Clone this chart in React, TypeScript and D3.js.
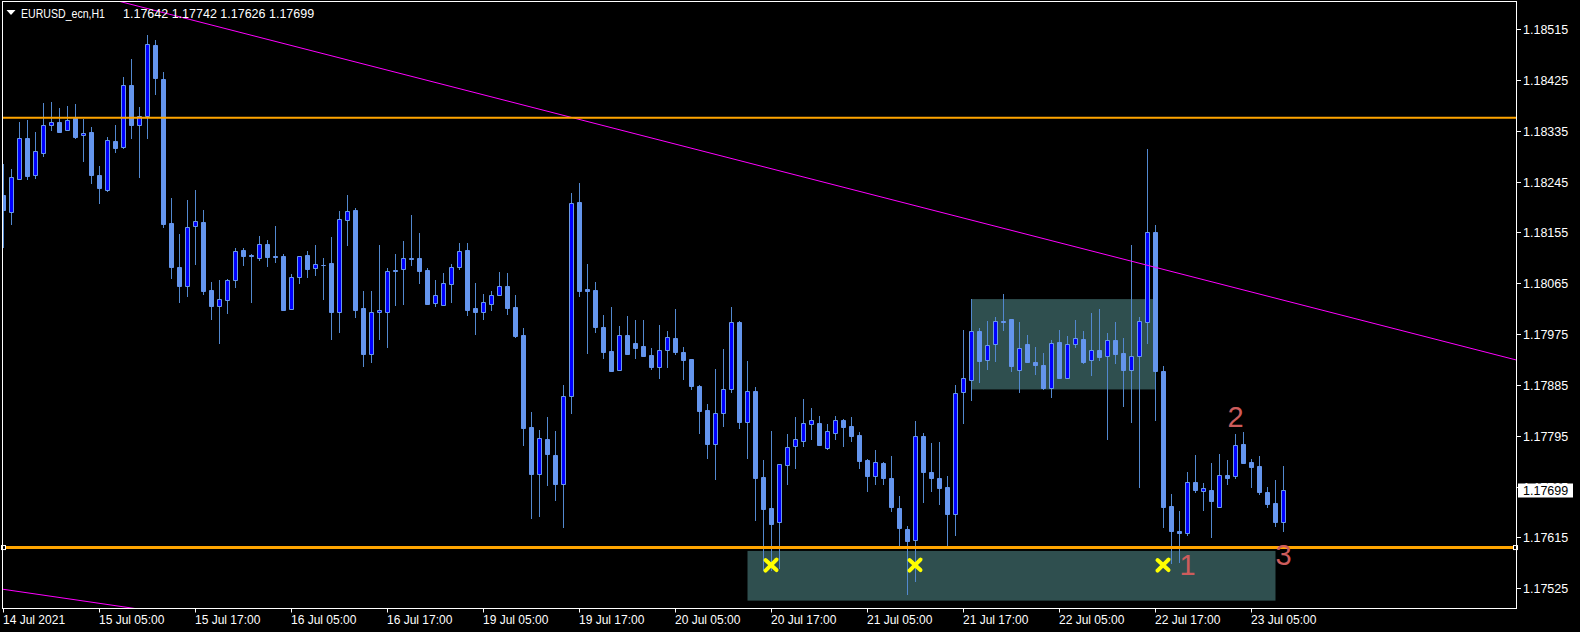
import React from "react";
import * as d3 from "d3";

// ---- data (EURUSD_ecn, H1, 14 Jul 17:00 -> 23 Jul 09:00) ----
const opens = [
  1.18221, 1.18192, 1.18250, 1.18322, 1.18256, 1.18296, 1.18345, 1.18351, 1.18336, 1.18357,
  1.18327, 1.18333, 1.18257, 1.18231, 1.18317, 1.18306, 1.18416, 1.18346, 1.18361, 1.18487,
  1.18427, 1.18172, 1.18094, 1.18061, 1.18166, 1.18174, 1.18053, 1.18025, 1.18036, 1.18070,
  1.18124, 1.18115, 1.18109, 1.18135, 1.18113, 1.18113, 1.18019, 1.18076, 1.18115, 1.18092,
  1.18098, 1.18101, 1.18015, 1.18177, 1.18195, 1.18021, 1.17939, 1.18014, 1.18015, 1.18088,
  1.18090, 1.18110, 1.18110, 1.18089, 1.18030, 1.18027, 1.18063, 1.18093, 1.18124, 1.18021,
  1.18014, 1.18029, 1.18045, 1.18060, 1.18023, 1.17974, 1.17811, 1.17728, 1.17789, 1.17761,
  1.17710, 1.17866, 1.18209, 1.18055, 1.18053, 1.17988, 1.17945, 1.17912, 1.17974, 1.17959,
  1.17954, 1.17938, 1.17916, 1.17946, 1.17968, 1.17943, 1.17931, 1.17883, 1.17841, 1.17781,
  1.17835, 1.17877, 1.17996, 1.17820, 1.17874, 1.17722, 1.17667, 1.17643, 1.17744, 1.17776,
  1.17786, 1.17816, 1.17818, 1.17774, 1.17800, 1.17823, 1.17812, 1.17796, 1.17752, 1.17724,
  1.17747, 1.17720, 1.17667, 1.17630, 1.17610, 1.17795, 1.17730, 1.17720, 1.17704, 1.17657,
  1.17872, 1.17893, 1.17981, 1.17930, 1.17957, 1.17999, 1.18002, 1.17911, 1.17958, 1.17926,
  1.17920, 1.17880, 1.17961, 1.17898, 1.17957, 1.17966, 1.17929, 1.17947, 1.17936, 1.17965,
  1.17942, 1.17912, 1.17936, 1.17996, 1.18156, 1.17910, 1.17671, 1.17626, 1.17623, 1.17713,
  1.17698, 1.17699, 1.17669, 1.17726, 1.17723, 1.17780, 1.17749, 1.17741, 1.17695, 1.17676,
  1.17642,
];
const highs = [
  1.18277, 1.18267, 1.18351, 1.18354, 1.18333, 1.18384, 1.18386, 1.18375, 1.18379, 1.18383,
  1.18356, 1.18342, 1.18273, 1.18324, 1.18345, 1.18430, 1.18462, 1.18377, 1.18505, 1.18496,
  1.18439, 1.18216, 1.18152, 1.18212, 1.18230, 1.18195, 1.18067, 1.18071, 1.18072, 1.18128,
  1.18128, 1.18117, 1.18149, 1.18141, 1.18167, 1.18116, 1.18082, 1.18113, 1.18122, 1.18133,
  1.18110, 1.18147, 1.18193, 1.18221, 1.18198, 1.18051, 1.18051, 1.18133, 1.18092, 1.18117,
  1.18140, 1.18186, 1.18154, 1.18092, 1.18071, 1.18083, 1.18099, 1.18136, 1.18136, 1.18066,
  1.18046, 1.18051, 1.18085, 1.18083, 1.18044, 1.17986, 1.17837, 1.17805, 1.17828, 1.17804,
  1.17885, 1.18225, 1.18243, 1.18099, 1.18067, 1.18009, 1.18023, 1.17989, 1.18007, 1.18000,
  1.18000, 1.17950, 1.17991, 1.17981, 1.18019, 1.17952, 1.17931, 1.17885, 1.17851, 1.17913,
  1.17949, 1.18023, 1.17998, 1.17927, 1.17881, 1.17752, 1.17803, 1.17745, 1.17798, 1.17828,
  1.17860, 1.17844, 1.17830, 1.17816, 1.17830, 1.17825, 1.17828, 1.17802, 1.17754, 1.17770,
  1.17749, 1.17759, 1.17688, 1.17635, 1.17821, 1.17800, 1.17782, 1.17784, 1.17724, 1.17885,
  1.17982, 1.18037, 1.17986, 1.17998, 1.18005, 1.18046, 1.18002, 1.17997, 1.17974, 1.17952,
  1.17942, 1.17965, 1.17982, 1.17972, 1.18000, 1.17981, 1.18012, 1.18020, 1.17977, 1.17996,
  1.17968, 1.18133, 1.18005, 1.18303, 1.18168, 1.17919, 1.17692, 1.17662, 1.17730, 1.17761,
  1.17711, 1.17747, 1.17763, 1.17752, 1.17798, 1.17802, 1.17754, 1.17759, 1.17704, 1.17717,
  1.17742,
];
const lows = [
  1.18130, 1.18170, 1.18249, 1.18250, 1.18252, 1.18291, 1.18336, 1.18333, 1.18336, 1.18323,
  1.18282, 1.18243, 1.18208, 1.18229, 1.18298, 1.18305, 1.18323, 1.18254, 1.18323, 1.18401,
  1.18165, 1.18075, 1.18032, 1.18043, 1.18100, 1.18046, 1.18002, 1.17960, 1.18013, 1.18059,
  1.18097, 1.18031, 1.18107, 1.18096, 1.18102, 1.18017, 1.18019, 1.18066, 1.18077, 1.18079,
  1.18038, 1.17967, 1.17979, 1.18132, 1.18006, 1.17919, 1.17926, 1.17967, 1.17953, 1.18027,
  1.18029, 1.18097, 1.18066, 1.18029, 1.18025, 1.18027, 1.18031, 1.18090, 1.18008, 1.17976,
  1.18001, 1.18018, 1.18045, 1.18011, 1.17969, 1.17779, 1.17650, 1.17652, 1.17707, 1.17682,
  1.17634, 1.17836, 1.18043, 1.17942, 1.17978, 1.17932, 1.17909, 1.17912, 1.17939, 1.17933,
  1.17937, 1.17914, 1.17898, 1.17916, 1.17940, 1.17896, 1.17878, 1.17799, 1.17756, 1.17719,
  1.17813, 1.17872, 1.17809, 1.17756, 1.17646, 1.17557, 1.17557, 1.17560, 1.17710, 1.17737,
  1.17776, 1.17790, 1.17779, 1.17772, 1.17790, 1.17777, 1.17785, 1.17738, 1.17698, 1.17710,
  1.17710, 1.17661, 1.17599, 1.17515, 1.17538, 1.17677, 1.17698, 1.17675, 1.17599, 1.17620,
  1.17818, 1.17859, 1.17891, 1.17914, 1.17928, 1.17982, 1.17910, 1.17873, 1.17926, 1.17905,
  1.17877, 1.17864, 1.17898, 1.17898, 1.17953, 1.17923, 1.17903, 1.17929, 1.17790, 1.17923,
  1.17847, 1.17820, 1.17705, 1.17960, 1.17822, 1.17634, 1.17570, 1.17572, 1.17620, 1.17696,
  1.17664, 1.17616, 1.17669, 1.17710, 1.17720, 1.17747, 1.17705, 1.17692, 1.17669, 1.17636,
  1.17626,
];
const closes = [
  1.18194, 1.18253, 1.18322, 1.18255, 1.18299, 1.18345, 1.18350, 1.18333, 1.18355, 1.18324,
  1.18331, 1.18256, 1.18233, 1.18318, 1.18305, 1.18416, 1.18346, 1.18361, 1.18488, 1.18429,
  1.18170, 1.18093, 1.18061, 1.18164, 1.18175, 1.18052, 1.18025, 1.18037, 1.18070, 1.18123,
  1.18114, 1.18113, 1.18134, 1.18112, 1.18112, 1.18017, 1.18076, 1.18113, 1.18091, 1.18099,
  1.18097, 1.18015, 1.18178, 1.18193, 1.18018, 1.17940, 1.18015, 1.18017, 1.18086, 1.18087,
  1.18109, 1.18108, 1.18087, 1.18029, 1.18044, 1.18065, 1.18093, 1.18123, 1.18018, 1.18014,
  1.18031, 1.18044, 1.18060, 1.18022, 1.17971, 1.17808, 1.17728, 1.17791, 1.17762, 1.17710,
  1.17865, 1.18208, 1.18052, 1.18051, 1.17988, 1.17944, 1.17910, 1.17974, 1.17939, 1.17951,
  1.17937, 1.17917, 1.17946, 1.17969, 1.17943, 1.17930, 1.17883, 1.17839, 1.17781, 1.17835,
  1.17877, 1.17996, 1.17820, 1.17875, 1.17721, 1.17666, 1.17639, 1.17745, 1.17775, 1.17789,
  1.17817, 1.17822, 1.17779, 1.17803, 1.17822, 1.17811, 1.17795, 1.17751, 1.17723, 1.17748,
  1.17721, 1.17668, 1.17631, 1.17609, 1.17794, 1.17731, 1.17721, 1.17703, 1.17657, 1.17870,
  1.17897, 1.17980, 1.17928, 1.17955, 1.17999, 1.17997, 1.17919, 1.17950, 1.17926, 1.17921,
  1.17880, 1.17959, 1.17898, 1.17957, 1.17968, 1.17926, 1.17946, 1.17935, 1.17964, 1.17940,
  1.17912, 1.17936, 1.17998, 1.18155, 1.17909, 1.17669, 1.17627, 1.17623, 1.17713, 1.17699,
  1.17702, 1.17680, 1.17726, 1.17721, 1.17779, 1.17747, 1.17740, 1.17696, 1.17674, 1.17643,
  1.17699,
];

const timeTickBars = [0, 12, 24, 36, 48, 60, 72, 84, 96, 108, 120, 132, 144, 156];
const timeTickLabels = [
  "14 Jul 2021", "15 Jul 05:00", "15 Jul 17:00", "16 Jul 05:00", "16 Jul 17:00",
  "19 Jul 05:00", "19 Jul 17:00", "20 Jul 05:00", "20 Jul 17:00", "21 Jul 05:00",
  "21 Jul 17:00", "22 Jul 05:00", "22 Jul 17:00", "23 Jul 05:00",
];
const priceTicks = [
  1.18515, 1.18425, 1.18335, 1.18245, 1.18155, 1.18065, 1.17975, 1.17885, 1.17795,
  1.17705, 1.17615, 1.17525,
];

const symbolName = "EURUSD_ecn,H1";
const lastOHLC = [1.17642, 1.17742, 1.17626, 1.17699];

// horizontal levels (resistance / support)
const hLevels = [1.18358, 1.17597];
// trend lines: [bar1, price1, bar2, price2]
const trendUpper = [0, 1.18617, 160, 1.18035];
const trendLower = [0, 1.17523, 15, 1.17492];
// rectangles: [barFrom, barTo, priceTop, priceBottom]
const rectBottom = [93, 159, 1.17591, 1.17503];
const rectMiddle = [121, 144, 1.18037, 1.17877];
// cross markers
const crossBars = [96, 114, 145];
const crossPrice = 1.17566;
// text annotations
const noteTexts = ["1", "2", "3"];
const noteBars = [148, 154, 160];
const notePrices = [1.17548, 1.17811, 1.17566];

const W = 1580;
const H = 632;
const PL = 3, PR = 1516, PT = 2, PB = 608;

export default function App() {
  const x = d3.scaleLinear().domain([0, 160]).range([3.5, 1283.5]);
  const y = d3.scaleLinear().domain([1.17525, 1.18515]).range([588.2, 29.2]);
  const fmt = d3.format(".5f");
  const n = opens.length;

  const bull = "#0000FF";
  const bear = "#6495ED";
  const wick = "#5288CF";

  const candles = d3.range(n).map((i) => {
    const o = opens[i], c = closes[i], h = highs[i], l = lows[i];
    const cx = x(i);
    const up = c > o;
    const yt = Math.round(y(Math.max(o, c))) + 0.5;
    const yb = Math.round(y(Math.min(o, c))) + 0.5;
    const yh = Math.round(y(h));
    const yl = Math.round(y(l)) + 1;
    const bx = cx - 2;
    return (
      <g key={i}>
        <line x1={cx} x2={cx} y1={yh} y2={yl} stroke={wick} strokeWidth={1} />
        <path
          d={`M${bx},${yt}H${bx + 4}V${yb}H${bx}Z`}
          fill={up ? bull : bear}
          stroke={up ? "#6A9AE8" : bear}
          strokeWidth={1}
        />
      </g>
    );
  });

  const trendPath = (t: number[]) => {
    const [b1, p1, b2, p2] = t;
    const s = (p2 - p1) / (b2 - b1);
    const bA = -10, bB = 260;
    return `M${x(bA)},${y(p1 + s * (bA - b1))}L${x(bB)},${y(p1 + s * (bB - b1))}`;
  };

  const rectEl = (r: number[], key: string) => (
    <rect
      key={key}
      x={x(r[0])}
      y={y(r[2])}
      width={x(r[1]) - x(r[0])}
      height={y(r[3]) - y(r[2])}
      fill="#2F4F4F"
    />
  );

  const font = "'Liberation Sans', Arial, sans-serif";

  return (
    <svg
      width={W}
      height={H}
      style={{ position: "fixed", left: 0, top: 0, background: "#000" }}
    >
      <defs>
        <clipPath id="plot">
          <rect x={PL} y={PT} width={PR - PL} height={PB - PT} />
        </clipPath>
      </defs>
      <rect x={0} y={0} width={W} height={H} fill="#000" />

      <g clipPath="url(#plot)">
        {rectEl(rectBottom, "rb")}
        {rectEl(rectMiddle, "rm")}
        {candles}
        <path d={trendPath(trendUpper)} stroke="#FF00FF" strokeWidth={1} fill="none" />
        <path d={trendPath(trendLower)} stroke="#FF00FF" strokeWidth={1} fill="none" />
        <line x1={PL} x2={PR} y1={y(hLevels[0])} y2={y(hLevels[0])} stroke="#FFA500" strokeWidth={2} />
        <line x1={PL} x2={PR} y1={y(hLevels[1])} y2={y(hLevels[1])} stroke="#FFA500" strokeWidth={3} />
        {crossBars.map((b, k) => {
          const cx = x(b) - 0.5;
          const cy = y(crossPrice);
          return (
            <g key={k} stroke="#FFFF00" strokeWidth={4} strokeLinecap="round" fill="none">
              <line x1={cx - 5.5} y1={cy - 5} x2={cx + 5.5} y2={cy + 5} />
              <line x1={cx + 5.5} y1={cy - 5.5} x2={cx - 5.5} y2={cy + 5.5} />
            </g>
          );
        })}
        {noteTexts.map((t, k) => (
          <text
            key={k}
            x={x(noteBars[k])}
            y={y(notePrices[k])}
            fill="#CD5C5C"
            fontSize={29}
            fontFamily={font}
            textAnchor="middle"
          >
            {t}
          </text>
        ))}
      </g>

      {/* selection markers on the support line */}
      <rect x={1.5} y={y(hLevels[1]) - 2} width={4} height={4} fill="#000" stroke="#fff" strokeWidth={1} />
      <rect x={PR - 2.5} y={y(hLevels[1]) - 2} width={4} height={4} fill="#000" stroke="#fff" strokeWidth={1} />

      {/* frame */}
      <rect x={2.5} y={1.5} width={PR - 2} height={PB + 0.5 - 1.5} fill="none" stroke="#fff" strokeWidth={1} />

      {/* price axis */}
      {priceTicks.map((p, k) => {
        const yy = Math.round(y(p)) + 0.5;
        return (
          <g key={k}>
            <line x1={1517} x2={1521} y1={yy} y2={yy} stroke="#fff" strokeWidth={1} />
            <text x={1523} y={yy + 4.5} fill="#fff" fontSize={12.5} fontFamily={font}>
              {fmt(p)}
            </text>
          </g>
        );
      })}
      {/* current price label */}
      <rect x={1518} y={Math.round(y(lastOHLC[3])) - 6.5} width={55} height={14} fill="#fff" />
      <text x={1523} y={Math.round(y(lastOHLC[3])) + 5} fill="#000" fontSize={12.5} fontFamily={font}>
        {fmt(lastOHLC[3])}
      </text>

      {/* time axis */}
      {timeTickBars.map((b, k) => {
        const xx = x(b);
        return (
          <g key={k}>
            <line x1={xx} x2={xx} y1={608.5} y2={612.5} stroke="#fff" strokeWidth={1} />
            <text x={xx - 0.5} y={623.5} fill="#fff" fontSize={12} fontFamily={font}>
              {timeTickLabels[k]}
            </text>
          </g>
        );
      })}

      {/* title */}
      <path d="M6.5,10H15.5L11,15Z" fill="#fff" />
      <text x={21} y={17.5} fill="#fff" fontSize={12.5} fontFamily={font} textLength={84} lengthAdjust="spacingAndGlyphs">
        {symbolName}
      </text>
      <text x={123} y={17.5} fill="#fff" fontSize={12.5} fontFamily={font}>
        {lastOHLC.map((v) => fmt(v)).join(" ")}
      </text>
    </svg>
  );
}
